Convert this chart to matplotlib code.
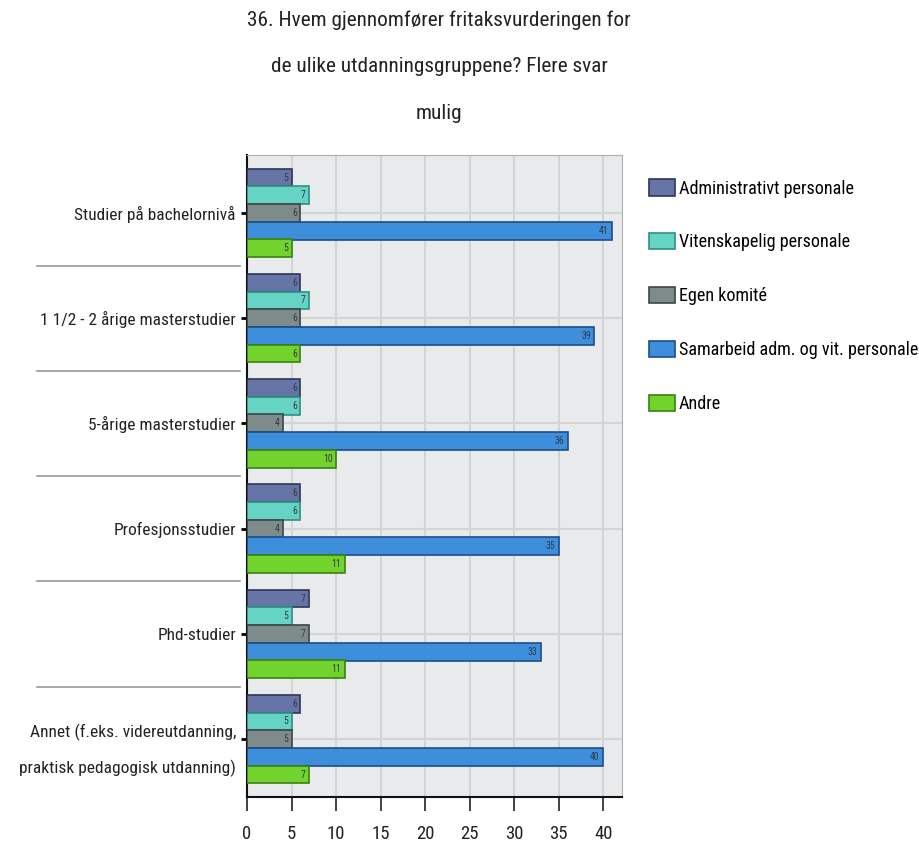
import numpy as np
import matplotlib
matplotlib.use("Agg")
import matplotlib.pyplot as plt
from matplotlib.patches import Patch
import matplotlib.transforms as mtransforms

plt.rcParams['font.family'] = ['Roboto Condensed', 'DejaVu Sans']

categories = [
    "Studier på bachelornivå",
    "1 1/2 - 2 årige masterstudier",
    "5-årige masterstudier",
    "Profesjonsstudier",
    "Phd-studier",
    "Annet (f.eks. videreutdanning,\npraktisk pedagogisk utdanning)",
]
series_names = [
    "Administrativt personale",
    "Vitenskapelig personale",
    "Egen komité",
    "Samarbeid adm. og vit. personale",
    "Andre",
]
admin = [5, 6, 6, 6, 7, 6]
viten = [7, 7, 6, 6, 5, 5]
egen = [6, 6, 4, 4, 7, 5]
samarbeid = [41, 39, 36, 35, 33, 40]
andre = [5, 6, 10, 11, 11, 7]
values = [admin, viten, egen, samarbeid, andre]

face_colors = ["#6674a6", "#66d4c4", "#7d8c8a", "#3d8fdc", "#72d32c"]
edge_colors = ["#2e3658", "#2f8f82", "#3c4645", "#1d4f86", "#3a8212"]

fig = plt.figure(figsize=(9.19, 8.49), dpi=100)
ax = fig.add_axes([0.2688, 0.0612, 0.408, 0.7562])

y = np.arange(len(categories))
step = 0.168
height = 0.17
for i, (vals, fc, ec) in enumerate(zip(values, face_colors, edge_colors)):
    pos = y + (i - 2) * step
    ax.barh(pos, vals, height=height, color=fc, edgecolor=ec, linewidth=1.2,
            zorder=3, label=series_names[i])
    for p, v in zip(pos, vals):
        ax.text(v - 0.4, p, str(v), ha="right", va="center", fontsize=7,
                color="#333a4a", zorder=4)

ax.set_xlim(0, 42.1)
ax.set_ylim(5.55, -0.55)
ax.set_facecolor("#e8eaec")
ax.set_xticks(range(0, 41, 5))
ax.set_yticks(y)
ax.set_yticklabels(categories, fontsize=12.5, color="#222222")
ax.get_yticklabels()[-1].set_linespacing(2.4)
ax.tick_params(axis="x", labelsize=13.5, length=10, width=1.2, pad=10, colors="#222222")
ax.tick_params(axis="y", length=4, width=2, pad=4)
ax.grid(True, color="#d2d4d6", linewidth=1.5, zorder=0)
ax.set_axisbelow(True)
for s in ["top", "right"]:
    ax.spines[s].set_color("#b0b0b0")
for s in ["left", "bottom"]:
    ax.spines[s].set_color("#111111")
    ax.spines[s].set_linewidth(1.5)

# separators between category labels
trans = mtransforms.blended_transform_factory(ax.transAxes, ax.transData)
for k in range(len(categories) - 1):
    ax.plot([-0.56, -0.02], [k + 0.5, k + 0.5], transform=trans, color="#555555",
            linewidth=1.2, alpha=0.6, clip_on=False)

handles = [Patch(facecolor=fc, edgecolor=ec, linewidth=1.2)
           for fc, ec in zip(face_colors, edge_colors)]
fig.legend(handles, series_names, loc="upper left", bbox_to_anchor=(0.690, 0.806),
           frameon=False, fontsize=13.1, handlelength=1.45, handleheight=1.0,
           handletextpad=0.2, labelspacing=1.95, borderpad=0.3)

fig.suptitle("36. Hvem gjennomfører fritaksvurderingen for\nde ulike utdanningsgruppene? Flere svar\nmulig",
             x=0.478, y=0.988, fontsize=15.3, linespacing=2.85, color="#222222")

fig.savefig("out.png", dpi=100)
